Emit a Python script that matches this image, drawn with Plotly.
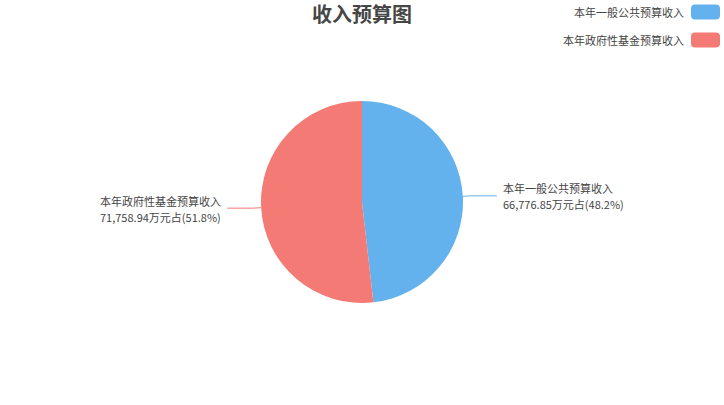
import math
import plotly.graph_objects as go

categories = ["本年一般公共预算收入", "本年政府性基金预算收入"]
values = [66776.85, 71758.94]
colors = ["#63b2ee", "#f47a75"]
title_text = "收入预算图"

W, H = 724, 405
cx, cy, r = 362, 202, 101

fig = go.Figure()
fig.add_trace(go.Pie(
    labels=categories, values=values, sort=False, direction="clockwise",
    rotation=0, textinfo="none", hoverinfo="label+value+percent",
    marker=dict(colors=colors, line=dict(color="white", width=0)),
    domain=dict(x=[(cx - r) / W, (cx + r) / W], y=[(H - cy - r) / H, (H - cy + r) / H]),
    showlegend=False,
))

total = sum(values)
shapes = []
annotations = []
acc = 0.0
lbl_font = dict(size=11, color="#444", family="Noto Sans CJK SC")
for cat, v, col in zip(categories, values, colors):
    frac = v / total
    mid = (acc + frac / 2) * 2 * math.pi
    acc += frac
    sx, sy = math.sin(mid), math.cos(mid)
    x0 = cx + r * sx
    y0 = cy - r * sy
    x1 = cx + (r + 8) * sx
    y1 = cy - (r + 8) * sy
    right = sx >= 0
    x2 = x1 + (26 if right else -26)
    shapes.append(dict(type="path", xref="paper", yref="paper",
                       path=f"M {x0/W},{1-y0/H} L {x1/W},{1-y1/H} L {x2/W},{1-y1/H}",
                       line=dict(color=col, width=1)))
    pct = frac * 100
    lines = [cat, f"{v:,.2f}万元占({pct:.1f}%)"]
    for k, t in enumerate(lines):
        yy = y1 - 7.5 + 16 * k
        annotations.append(dict(x=(x2 + (5 if right else -5)) / W, y=1 - yy / H,
                                xref="paper", yref="paper", text=t, showarrow=False,
                                xanchor="left" if right else "right", yanchor="middle",
                                borderpad=0, font=lbl_font))

# custom legend (text then swatch on right)
for i, (cat, col) in enumerate(zip(categories, colors)):
    yc = 12 + i * 28
    annotations.append(dict(x=686 / W, y=1 - yc / H, xref="paper", yref="paper",
                            text=cat, showarrow=False, xanchor="right", yanchor="middle",
                            font=lbl_font))
    xa, xb, ya, yb = 691, 720, yc - 7.5, yc + 7.5
    rr = 4
    p = (f"M {(xa+rr)/W},{1-ya/H} L {(xb-rr)/W},{1-ya/H} Q {xb/W},{1-ya/H} {xb/W},{1-(ya+rr)/H} "
         f"L {xb/W},{1-(yb-rr)/H} Q {xb/W},{1-yb/H} {(xb-rr)/W},{1-yb/H} "
         f"L {(xa+rr)/W},{1-yb/H} Q {xa/W},{1-yb/H} {xa/W},{1-(yb-rr)/H} "
         f"L {xa/W},{1-(ya+rr)/H} Q {xa/W},{1-ya/H} {(xa+rr)/W},{1-ya/H} Z")
    shapes.append(dict(type="path", xref="paper", yref="paper", path=p,
                       fillcolor=col, line=dict(width=0)))

annotations.append(dict(x=cx / W, y=1 - 14 / H, xref="paper", yref="paper",
                        text=f"<b>{title_text}</b>", showarrow=False,
                        xanchor="center", yanchor="middle",
                        font=dict(size=20, color="#464646", family="Noto Sans CJK SC")))

fig.update_layout(width=W, height=H, margin=dict(l=0, r=0, t=0, b=0),
                  paper_bgcolor="white", plot_bgcolor="white",
                  shapes=shapes, annotations=annotations)
fig.write_html("out.html", config={"displayModeBar": False},
               post_script="document.body.style.margin='0';document.body.style.padding='0';document.body.style.overflow='hidden';")
